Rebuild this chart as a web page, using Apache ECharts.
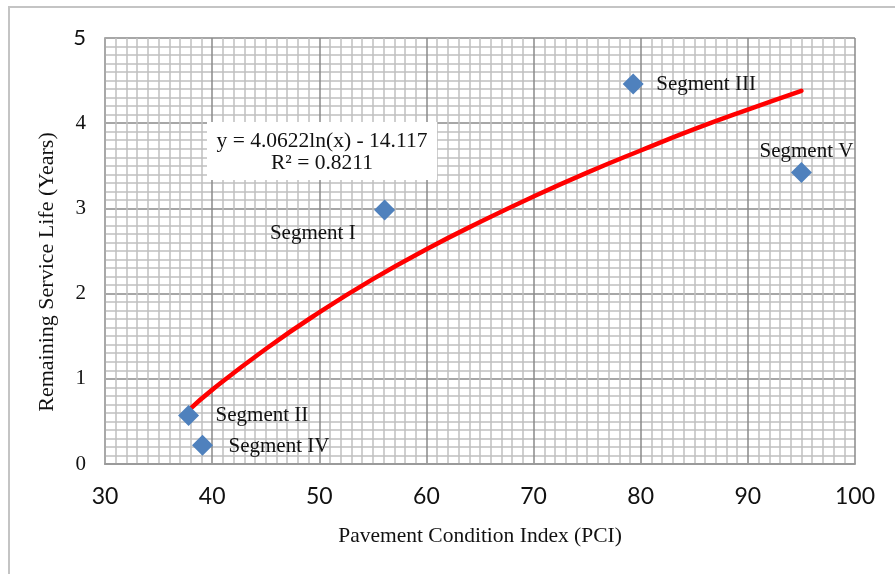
<!DOCTYPE html>
<html>
<head>
<meta charset="utf-8">
<script src="https://cdn.jsdelivr.net/npm/echarts@6/dist/echarts.min.js"></script>
<style>
html,body{margin:0;padding:0;background:#fff;}
#chart{width:895px;height:574px;}
</style>
</head>
<body>
<div id="chart"></div>
<script>
// ---- data ----
var segNames = ['Segment I', 'Segment II', 'Segment III', 'Segment IV', 'Segment V'];
var pciValues = [56.1, 37.8, 79.3, 39.1, 95.0];
var lifeValues = [2.98, 0.57, 4.46, 0.22, 3.42];

// logarithmic trend line points
var trendPci = [37.8, 40, 45, 50, 55, 60, 65, 70, 75, 80, 85, 90, 95];
var trendLife = [0.63, 0.87, 1.35, 1.78, 2.17, 2.52, 2.84, 3.14, 3.42, 3.68, 3.93, 4.16, 4.38];

var xTicks = [30, 40, 50, 60, 70, 80, 90, 100];
var yTicks = [0, 1, 2, 3, 4, 5];
var eqLine1 = 'y = 4.0622ln(x) - 14.117';
var eqLine2 = 'R² = 0.8211';

// label placement (style only)
var labelCfg = [
  {align: 'right', offset: [-29, 23]},
  {align: 'left', offset: [27, 0]},
  {align: 'left', offset: [23, 0]},
  {align: 'left', offset: [26, 1]},
  {align: 'center', offset: [5, -21]}
];

var serif = '"Liberation Serif","Times New Roman",serif';
var sans = 'Lato, "Open Sans", sans-serif';

var scatterData = segNames.map(function (n, i) {
  return {
    name: n,
    value: [pciValues[i], lifeValues[i]],
    label: {
      show: true,
      position: 'inside',
      formatter: n,
      align: labelCfg[i].align,
      verticalAlign: 'middle',
      offset: labelCfg[i].offset,
      fontFamily: serif,
      fontSize: 21,
      color: '#111'
    }
  };
});

var trendData = trendPci.map(function (x, i) { return [x, trendLife[i]]; });

var chart = echarts.init(document.getElementById('chart'), null, {renderer: 'canvas'});
chart.setOption({
  backgroundColor: '#fff',
  animation: false,
  grid: {left: 105, right: 40, top: 38, bottom: 110, containLabel: false},
  xAxis: {
    type: 'value',
    min: xTicks[0],
    max: xTicks[xTicks.length - 1],
    interval: 10,
    name: 'Pavement Condition Index (PCI)',
    nameLocation: 'middle',
    nameGap: 61,
    nameTextStyle: {fontFamily: serif, fontSize: 21.5, color: '#111'},
    axisLine: {show: true, lineStyle: {color: '#9a9a9a', width: 2}},
    axisTick: {show: false},
    axisLabel: {margin: 21, fontFamily: sans, fontSize: 23, color: '#111'},
    splitLine: {show: true, lineStyle: {color: '#8a8a8a', width: 1.5}},
    minorTick: {show: false, splitNumber: 10},
    minorSplitLine: {show: true, lineStyle: {color: '#c0c0c0', width: 1.5}}
  },
  yAxis: {
    type: 'value',
    min: yTicks[0],
    max: yTicks[yTicks.length - 1],
    interval: 1,
    axisLine: {show: true, lineStyle: {color: '#a8a8a8', width: 2}},
    axisTick: {show: false},
    axisLabel: {
      margin: 19, fontFamily: serif, fontSize: 21, color: '#111',
      formatter: function (v) { return v === 5 ? '{s|5}' : String(v); },
      rich: {s: {fontFamily: sans, fontSize: 22, color: '#111'}}
    },
    splitLine: {show: true, lineStyle: {color: '#8a8a8a', width: 1.5}},
    minorTick: {show: false, splitNumber: 10},
    minorSplitLine: {show: true, lineStyle: {color: '#c0c0c0', width: 1.5}}
  },
  graphic: [
    {
      type: 'rect', z: -10, silent: true,
      shape: {x: 9, y: 7, width: 900, height: 600},
      style: {fill: 'none', stroke: '#c4c4c4', lineWidth: 2}
    },
    {
      type: 'text', z: 100, silent: true,
      x: 47, y: 272, rotation: Math.PI / 2,
      style: {text: 'Remaining Service Life (Years)', font: '22px ' + serif, fill: '#111', align: 'center', verticalAlign: 'middle'}
    },
    {
      type: 'rect', z: 100, silent: true,
      shape: {x: 207, y: 122, width: 230, height: 58},
      style: {fill: '#fff', stroke: 'none'}
    },
    {
      type: 'text', z: 101, silent: true,
      x: 322, y: 141,
      style: {text: eqLine1, font: '21.5px ' + serif, fill: '#111', align: 'center', verticalAlign: 'middle'}
    },
    {
      type: 'text', z: 101, silent: true,
      x: 322, y: 163,
      style: {text: eqLine2, font: '21.5px ' + serif, fill: '#111', align: 'center', verticalAlign: 'middle'}
    }
  ],
  series: [
    {
      type: 'line',
      data: trendData,
      smooth: true,
      showSymbol: false,
      symbol: 'none',
      lineStyle: {color: '#ff0000', width: 4.5, cap: 'round'},
      z: 3
    },
    {
      type: 'scatter',
      data: scatterData,
      symbol: 'diamond',
      symbolSize: 21,
      itemStyle: {color: '#4f81bd', opacity: 1},
      z: 4
    }
  ]
});
</script>
</body>
</html>
